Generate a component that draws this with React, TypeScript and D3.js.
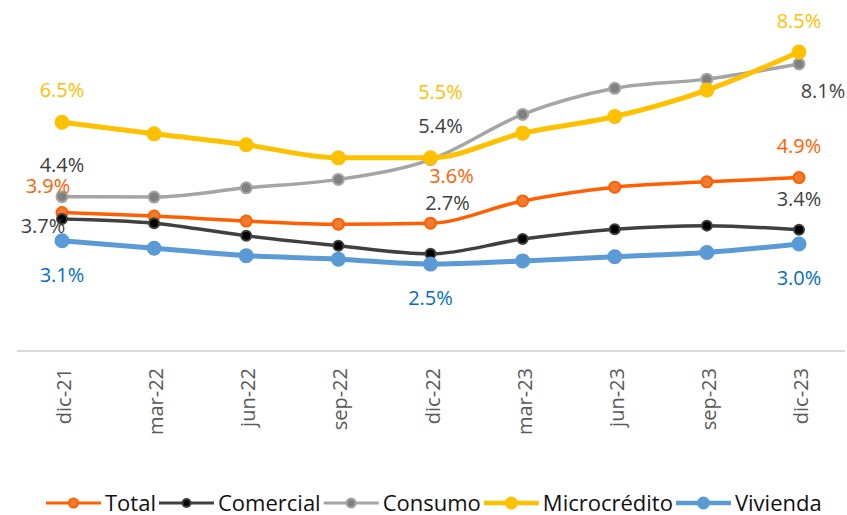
import { useEffect, useRef } from "react";
import { select, scalePoint, scaleLinear, line, curveMonotoneX } from "d3";

// categories (quarter-end)
const periods = ["dic-21", "mar-22", "jun-22", "sep-22", "dic-22", "mar-23", "jun-23", "sep-23", "dic-23"];

// series values, %
const total = [3.95, 3.85, 3.71, 3.62, 3.65, 4.28, 4.67, 4.82, 4.94];
const comercial = [3.77, 3.65, 3.29, 3.01, 2.78, 3.2, 3.48, 3.58, 3.46];
const consumo = [4.4, 4.39, 4.65, 4.89, 5.45, 6.73, 7.47, 7.73, 8.16];
const microcredito = [6.51, 6.18, 5.87, 5.5, 5.5, 6.2, 6.67, 7.42, 8.5];
const vivienda = [3.15, 2.94, 2.73, 2.63, 2.49, 2.58, 2.7, 2.82, 3.06];

// shown data labels
const totalLabels = ["3.9%", "3.6%", "4.9%"];
const comercialLabels = ["3.7%", "2.7%", "3.4%"];
const consumoLabels = ["4.4%", "5.4%", "8.1%"];
const microLabels = ["6.5%", "5.5%", "8.5%"];
const viviendaLabels = ["3.1%", "2.5%", "3.0%"];
const labelIdx = [0, 4, 8];

const W = 847;
const H = 515;
const FONT = "'Open Sans', 'Noto Sans', sans-serif";

type Series = {
  name: string;
  values: number[];
  labels: string[];
  // label offsets from the point [dx, dy] (baseline)
  offs: [number, number][];
  line: string;
  width: number;
  fill: string;
  r: number;
  text: string;
};

const SERIES: Series[] = [
  { name: "Total", values: total, labels: totalLabels, offs: [[-14, -20], [21, -40], [0, -25]], line: "#FF5F00", width: 3.5, fill: "#ED7D31", r: 5.5, text: "#FF5F00" },
  { name: "Comercial", values: comercial, labels: comercialLabels, offs: [[-19, 14], [17, -44], [0, -24]], line: "#404040", width: 3.5, fill: "#000000", r: 5, text: "#404040" },
  { name: "Consumo", values: consumo, labels: consumoLabels, offs: [[0, -25], [10, -27], [24, 34]], line: "#A5A5A5", width: 3.5, fill: "#808080", r: 5.5, text: "#404040" },
  { name: "Microcrédito", values: microcredito, labels: microLabels, offs: [[0, -25], [10, -59], [0, -24]], line: "#FFC000", width: 5, fill: "#FFC000", r: 6.5, text: "#FFC000" },
  { name: "Vivienda", values: vivienda, labels: viviendaLabels, offs: [[0, 41], [0, 41], [0, 41]], line: "#5B9BD5", width: 5, fill: "#5B9BD5", r: 6.5, text: "#0070C0" },
];

export default function App() {
  const ref = useRef<SVGSVGElement>(null);

  useEffect(() => {
    const svg = select(ref.current);
    svg.selectAll("*").remove();

    const x = scalePoint<string>().domain(periods).range([62, 799]);
    const y = scaleLinear().domain([0, 10]).range([352, -1]);

    // x axis line
    svg.append("line")
      .attr("x1", 17).attr("x2", 845)
      .attr("y1", 351).attr("y2", 351)
      .attr("stroke", "#D9D9D9").attr("stroke-width", 2);

    // tick labels (rotated)
    svg.append("g").selectAll("text").data(periods).enter().append("text")
      .attr("transform", (d) => `translate(${x(d)},368) rotate(-90)`)
      .attr("dy", "0.45em")
      .attr("text-anchor", "end")
      .attr("font-family", FONT)
      .attr("font-size", 20)
      .attr("fill", "#595959")
      .text((d) => d);

    const gen = line<number>()
      .x((_, i) => x(periods[i]) as number)
      .y((d) => y(d))
      .curve(curveMonotoneX);

    SERIES.forEach((s) => {
      const g = svg.append("g");
      g.append("path")
        .attr("d", gen(s.values))
        .attr("fill", "none")
        .attr("stroke", s.line)
        .attr("stroke-width", s.width)
        .attr("stroke-linejoin", "round")
        .attr("stroke-linecap", "round");
      g.selectAll("circle").data(s.values).enter().append("circle")
        .attr("cx", (_, i) => x(periods[i]) as number)
        .attr("cy", (d) => y(d))
        .attr("r", s.r)
        .attr("fill", s.fill)
        .attr("stroke", s.line)
        .attr("stroke-width", 2);
    });

    // data labels on top
    SERIES.forEach((s) => {
      svg.append("g").selectAll("text").data(labelIdx).enter().append("text")
        .attr("x", (i, k) => (x(periods[i]) as number) + s.offs[k][0])
        .attr("y", (i, k) => y(s.values[i]) + s.offs[k][1])
        .attr("text-anchor", "middle")
        .attr("font-family", FONT)
        .attr("font-size", 20)
        .attr("fill", s.text)
        .text((_, k) => s.labels[k]);
    });

    // legend
    const lg = svg.append("g").attr("transform", "translate(46,503)");
    let cx = 0;
    SERIES.forEach((s) => {
      const item = lg.append("g").attr("transform", `translate(${cx},0)`);
      item.append("line")
        .attr("x1", 0).attr("x2", 55).attr("y1", 0).attr("y2", 0)
        .attr("stroke", s.line).attr("stroke-width", s.width - 0.5);
      item.append("circle")
        .attr("cx", 27.5).attr("cy", 0).attr("r", s.r - 1)
        .attr("fill", s.fill).attr("stroke", s.line).attr("stroke-width", 2);
      const t = item.append("text")
        .attr("x", 59).attr("y", 0).attr("dy", "0.36em")
        .attr("font-family", FONT)
        .attr("font-size", 22)
        .attr("fill", "#111")
        .text(s.name);
      const w = (t.node() as SVGTextElement).getComputedTextLength();
      cx += 59 + w + 3;
    });
  }, []);

  return (
    <svg
      ref={ref}
      width={W}
      height={H}
      style={{ position: "absolute", left: 0, top: 0, background: "#fff" }}
    />
  );
}
